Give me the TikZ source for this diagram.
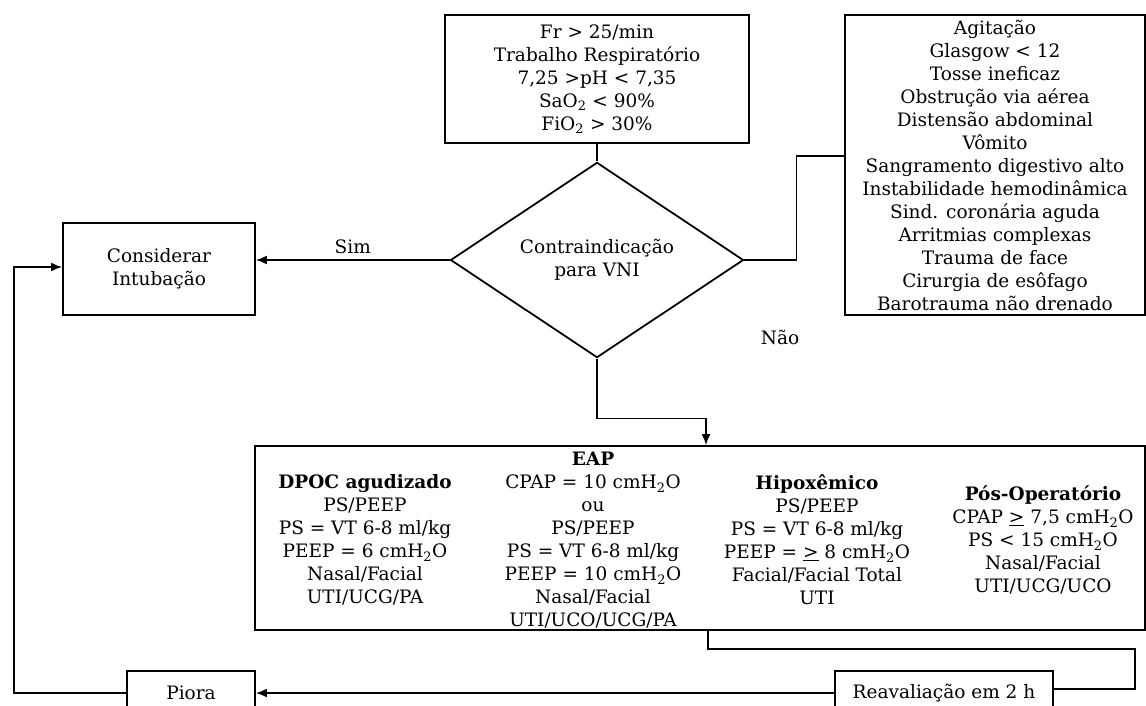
\documentclass[tikz,border=0pt]{standalone}
\usepackage{fontspec}
\setmainfont{DejaVu Serif}
\usetikzlibrary{arrows.meta,shapes.geometric}
\newcommand{\cmagua}{cmH\textsubscript{2}O}

\begin{document}
\begin{tikzpicture}[x=1pt,y=-1pt,>={Latex[length=11pt,width=9pt]},line width=1.8pt,
        font=\fontsize{18.5}{23}\selectfont,
        caixa/.style={draw,rectangle,align=center,inner sep=0pt},
        coluna/.style={align=center,inner sep=0pt},
        losango/.style={draw,diamond,align=center,inner sep=0pt,
            minimum width=293pt,minimum height=140pt}]
    \clip (0,0) rectangle (1146,705);

    \node[caixa,minimum width=304pt,minimum height=128pt] (sinais) at (597,79)
        {Fr > 25/min\\Trabalho Respiratório\\7,25 >pH < 7,35\\SaO\textsubscript{2} < 90\%\\FiO\textsubscript{2} > 30\%};
    \node[losango] (decisao) at (597,260) {Contraindicação\\para VNI};
    \node[caixa,minimum width=300pt,minimum height=300pt] (contra) at (995,165)
        {Agitação\\Glasgow < 12\\Tosse ineficaz\\Obstrução via aérea\\Distensão abdominal\\Vômito\\
         Sangramento digestivo alto\\Instabilidade hemodinâmica\\Sind. coronária aguda\\
         Arritmias complexas\\Trauma de face\\Cirurgia de esôfago\\Barotrauma não drenado};
    \node[caixa,minimum width=192pt,minimum height=92pt] (intub) at (159,269) {Considerar\\Intubação};
    \node[caixa,minimum width=890pt,minimum height=184pt] (modos) at (700,538) {};
    \node[caixa,minimum width=218pt,minimum height=44pt] (reav) at (944,693) {Reavaliação em 2 h};
    \node[caixa,minimum width=128pt,minimum height=44pt] (piora) at (191,693) {Piora};

    % colunas da VNI
    \node[coluna] (dpoc) at (365,540)
        {\textbf{DPOC agudizado}\\PS/PEEP\\PS = VT 6-8 ml/kg\\PEEP = 6 \cmagua\\Nasal/Facial\\UTI/UCG/PA};
    \node[coluna] (eap) at (593,540)
        {\textbf{EAP}\\CPAP = 10 \cmagua\\ou\\PS/PEEP\\PS = VT 6-8 ml/kg\\PEEP = 10 \cmagua\\Nasal/Facial\\UTI/UCO/UCG/PA};
    \node[coluna] (hipox) at (817,540)
        {\textbf{Hipoxêmico}\\PS/PEEP\\PS = VT 6-8 ml/kg\\PEEP = \underline{>} 8 \cmagua\\Facial/Facial Total\\UTI};
    \node[coluna] (posop) at (1043,540)
        {\textbf{Pós-Operatório}\\CPAP \underline{>} 7,5 \cmagua\\PS < 15 \cmagua\\Nasal/Facial\\UTI/UCG/UCO};

    \node (nao) at (780,337) {Não};

    \draw (sinais.south) -- (decisao.north);
    \draw (decisao.east) -- ++(52,0) |- ([yshift=9pt]contra.west);
    \draw[->] (decisao.west) -- node[above=2pt] {Sim} (decisao.west -| intub.east);
    \draw[->] (decisao.south) -- ++(0,60) -| ([xshift=6pt]modos.north);
    \draw ([xshift=8pt]modos.south) -- ++(0,18) -| (1135,670) |- ([yshift=4pt]reav.east);
    \draw[->] (reav.west) -- (piora.east);
    \draw[->] (piora.west) -- ++(-112,0) |- ([yshift=2pt]intub.west);
\end{tikzpicture}
\end{document}
